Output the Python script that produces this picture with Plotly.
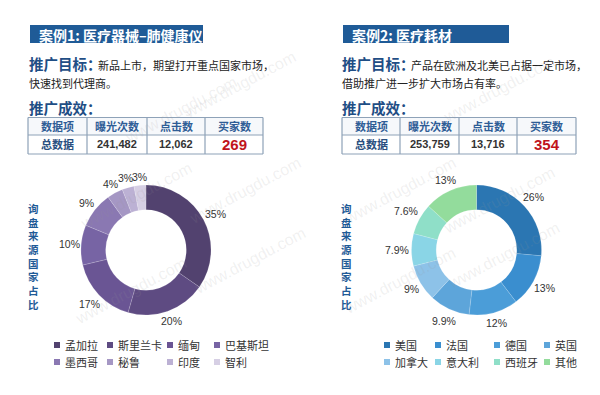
import math
import plotly.graph_objects as go

W, H = 600, 395
FONT = "Noto Sans CJK SC, Liberation Sans, sans-serif"
NUMFONT = "Liberation Sans, Noto Sans, sans-serif"

# ---------------- data ----------------
case1_title = "案例1: 医疗器械–肺健康仪"
case1_goal = "新品上市，期望打开重点国家市场，"
case1_goal2 = "快速找到代理商。"
case2_title = "案例2: 医疗耗材"
case2_goal = "产品在欧洲及北美已占据一定市场，"
case2_goal2 = "借助推广进一步扩大市场占有率。"

table_header = ["数据项", "曝光次数", "点击数", "买家数"]
case1_row = ["总数据", "241,482", "12,062", "269"]
case2_row = ["总数据", "253,759", "13,716", "354"]

c1_countries = ["孟加拉", "斯里兰卡", "缅甸", "巴基斯坦", "墨西哥", "秘鲁", "印度", "智利"]
c1_values = [35, 20, 17, 10, 9, 4, 3, 3]
c1_labels = ["35%", "20%", "17%", "10%", "9%", "4%", "3%", "3%"]
c1_colors = ["#52426f", "#5e4b82", "#6a5594", "#7764a4", "#8a78b2", "#a597c4", "#bcb1d4", "#d6cfe4"]

c2_countries = ["美国", "法国", "德国", "英国", "加拿大", "意大利", "西班牙", "其他"]
c2_values = [26, 13, 12, 9.9, 9, 7.9, 7.6, 13]
c2_labels = ["26%", "13%", "12%", "9.9%", "9%", "7.9%", "7.6%", "13%"]
c2_colors = ["#2b76b2", "#3a8ecf", "#4b9dd8", "#5da5da", "#8dc2e8", "#8ad5e6", "#8fdfc8", "#93dc9c"]

vertical_label = "询盘来源国家占比"

# ---------------- helpers ----------------
def px(x):
    return x / W

def py(y):
    return 1 - y / H

fig = go.Figure()
annotations = []
shapes = []

def add_text(x, y, text, size=11, color="#333333", xanchor="left", yanchor="middle",
             bold=False, family=FONT, pad=1):
    annotations.append(dict(
        x=px(x), y=py(y), xref="paper", yref="paper",
        text=f"<b>{text}</b>" if bold else text,
        showarrow=False, xanchor=xanchor, yanchor=yanchor, borderpad=pad,
        font=dict(family=family, size=size, color=color),
    ))

def hline(x0, x1, y, color="#8ea2b8", width=1):
    shapes.append(dict(type="line", xref="paper", yref="paper",
                       x0=px(x0), x1=px(x1), y0=py(y), y1=py(y),
                       line=dict(color=color, width=width)))

def vline(x, y0, y1, color="#8ea2b8", width=1):
    shapes.append(dict(type="line", xref="paper", yref="paper",
                       x0=px(x), x1=px(x), y0=py(y0), y1=py(y1),
                       line=dict(color=color, width=width)))

def panel(x0, title, box_w, goal, goal2, goal_x, row, col_x, countries, values, labels,
          colors, pie_cx, legend_xs):
    # title box
    shapes.append(dict(type="rect", xref="paper", yref="paper",
                       x0=px(x0 + 2), x1=px(x0 + 2 + box_w), y0=py(43), y1=py(25),
                       fillcolor="#1f5b97", line=dict(width=0), layer="below"))
    add_text(x0 + 9, 34.5, title, size=14, color="white", bold=True)
    # goal text
    add_text(x0 - 1, 64, "推广目标：", size=14.5, color="#1f4e85", bold=True)
    add_text(goal_x, 65, goal, size=11, color="#222222")
    add_text(x0 - 1, 83, goal2, size=11, color="#222222")
    add_text(x0 - 1, 107, "推广成效：", size=14.5, color="#1f4e85", bold=True)

    # table (grid + text)
    ty0, tym, ty1 = 117.5, 135, 154
    shapes.append(dict(type="rect", xref="paper", yref="paper",
                       x0=px(col_x[0]), x1=px(col_x[-1]), y0=py(tym), y1=py(ty0),
                       fillcolor="#f6f8fb", line=dict(width=0), layer="below"))
    for yy in (ty0, tym, ty1):
        hline(col_x[0], col_x[-1], yy, width=1.2)
    for xx in col_x:
        vline(xx, ty0, ty1, width=1.2)
    cell_colors = ["#2a4f80", "#333333", "#333333", "#c0141c"]
    cell_sizes = [11, 11, 11, 15]
    for i, h in enumerate(table_header):
        cx = (col_x[i] + col_x[i + 1]) / 2
        add_text(cx, (ty0 + tym) / 2, h, size=11, color="#2f5d96", xanchor="center", bold=True)
        add_text(cx, (tym + ty1) / 2, row[i], size=cell_sizes[i], color=cell_colors[i],
                 xanchor="center", bold=True, family=FONT if i == 0 else NUMFONT)

    # donut
    r = 65
    cy = 250
    fig.add_trace(go.Pie(
        values=values, labels=countries, text=labels,
        textinfo="none",
        hole=0.62, sort=False, direction="clockwise", rotation=0,
        marker=dict(colors=colors, line=dict(color="rgba(255,255,255,0.3)", width=0.5)),
        domain=dict(x=[px(pie_cx - r), px(pie_cx + r)], y=[py(cy + r), py(cy - r)]),
        showlegend=False, hoverinfo="label+text",
    ))
    # data labels at the outside end of each slice
    total = sum(values)
    cum = 0
    for v, lab in zip(values, labels):
        mid = (cum + v / 2) / total * 2 * math.pi
        cum += v
        s, c = math.sin(mid), math.cos(mid)
        half_w = 3.1 * len(lab)
        ext = abs(s) * half_w + abs(c) * 6
        d = r + 2 + ext
        add_text(pie_cx + d * s, cy - d * c, lab, size=10.5, color="#333333",
                 xanchor="center", yanchor="middle", family=NUMFONT, pad=0)

    # vertical label (one stacked text block)
    add_text(x0 + 5, 256, "<br>".join(vertical_label), size=10.5, color="#1f5b97",
             xanchor="center", bold=True)

    # custom legend, 4 columns x 2 rows
    for i, (name, col) in enumerate(zip(countries, colors)):
        lx = legend_xs[i % 4]
        ly = 345 + (i // 4) * 17
        shapes.append(dict(type="rect", xref="paper", yref="paper",
                           x0=px(lx - 3), x1=px(lx + 3), y0=py(ly + 3), y1=py(ly - 3),
                           fillcolor=col, line=dict(width=0)))
        add_text(lx + 6, ly, name, size=11, color="#333333")


panel(28, case1_title, 173, case1_goal, case1_goal2, 96, case1_row, [28, 87, 147, 205, 263],
      c1_countries, c1_values, c1_labels, c1_colors, 146, [57, 110, 170, 217])
panel(341, case2_title, 166, case2_goal, case2_goal2, 409, case2_row, [342, 400, 459, 517, 576],
      c2_countries, c2_values, c2_labels, c2_colors, 476.5, [387, 438, 497, 547])

# faint watermarks
for (wx, wy) in [(240, 45), (120, 70), (560, 50), (75, 195), (245, 190), (400, 190),
                 (560, 200), (70, 330), (250, 300), (400, 320), (565, 295)]:
    annotations.append(dict(x=px(wx), y=py(wy), xref="paper", yref="paper",
                            text="www.drugdu.com", showarrow=False, textangle=-28,
                            font=dict(family="Liberation Sans, sans-serif", size=16,
                                      color="rgba(150,150,150,0.14)")))

fig.update_layout(
    width=W, height=H, margin=dict(l=0, r=0, t=0, b=0),
    paper_bgcolor="white", plot_bgcolor="white",
    annotations=annotations, shapes=shapes, showlegend=False,
)

fig.write_html("out.html", config={"displayModeBar": False},
               post_script="document.body.style.margin='0';document.body.style.overflow='hidden';")
